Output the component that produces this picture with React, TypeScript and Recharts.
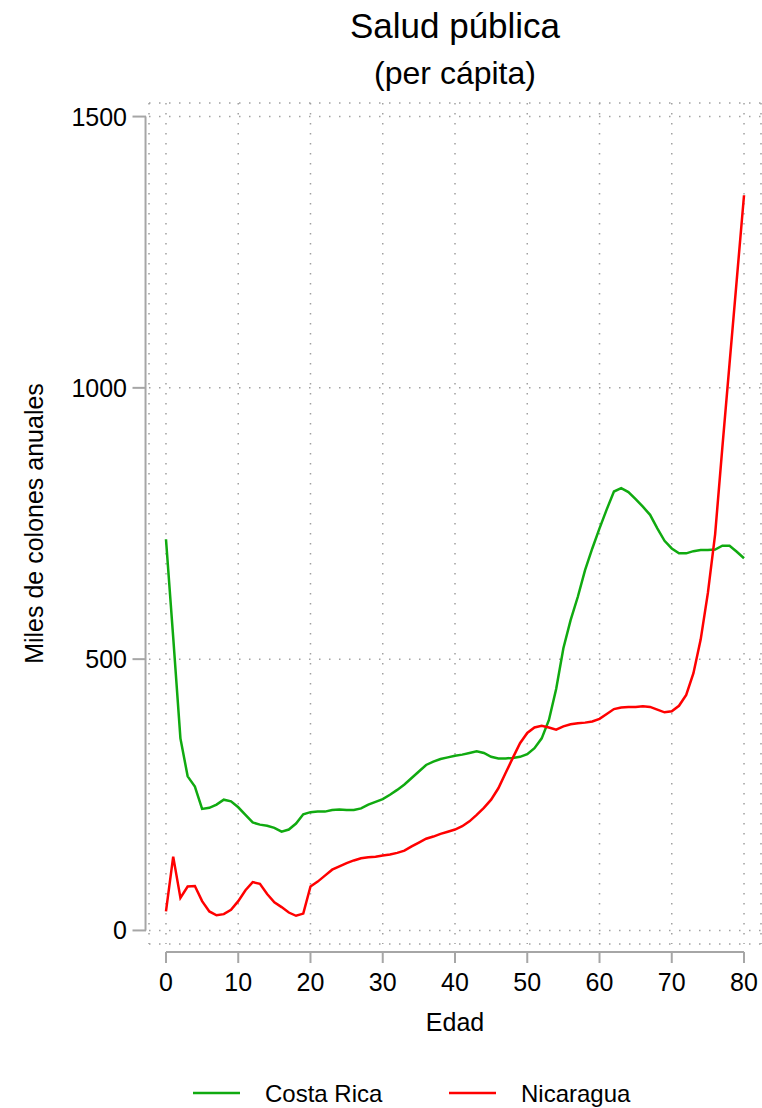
import React from 'react';
import { LineChart, Line, XAxis, YAxis, CartesianGrid, ReferenceLine } from 'recharts';

const ages = [
  0, 1, 2, 3, 4, 5, 6, 7, 8, 9, 10, 11, 12, 13, 14, 15, 16, 17, 18, 19, 20,
  21, 22, 23, 24, 25, 26, 27, 28, 29, 30, 31, 32, 33, 34, 35, 36, 37, 38, 39, 40,
  41, 42, 43, 44, 45, 46, 47, 48, 49, 50, 51, 52, 53, 54, 55, 56, 57, 58, 59, 60,
  61, 62, 63, 64, 65, 66, 67, 68, 69, 70, 71, 72, 73, 74, 75, 76, 77, 78, 79, 80,
];

const costaRica = [
  721, 540, 354, 284, 265, 224, 226, 232, 241, 238, 227,
  213, 199, 195, 193, 189, 182, 186, 197, 214, 218,
  219, 219, 222, 223, 222, 222, 225, 232, 237, 242,
  250, 259, 269, 281, 293, 305, 311, 316, 319, 322,
  324, 327, 330, 327, 320, 317, 317, 318, 320, 325,
  336, 354, 388, 445, 520, 572, 615, 664, 704, 741,
  776, 809, 815, 808, 795, 781, 766, 741, 718, 704,
  695, 695, 699, 701, 701, 702, 709, 709, 698, 686,
];

const nicaragua = [
  35, 136, 60, 81, 82, 54, 35, 28, 30, 38, 54,
  74, 89, 86, 67, 52, 43, 33, 27, 31, 81,
  90, 101, 112, 118, 124, 129, 133, 135, 136, 138,
  140, 143, 147, 155, 162, 169, 173, 178, 182, 186,
  192, 201, 213, 226, 241, 262, 290, 318, 345, 364,
  374, 377, 374, 370, 376, 380, 382, 383, 385, 390,
  399, 408, 411, 412, 412, 413, 412, 407, 402, 404,
  414, 434, 474, 536, 622, 730, 890, 1045, 1200, 1355,
];

const xTicks = [0, 10, 20, 30, 40, 50, 60, 70, 80];
const yTicks = [0, 500, 1000, 1500];
const seriesNames = ['Costa Rica', 'Nicaragua'];
const seriesColors = ['#10aa10', '#ff0000'];
const titleText = 'Salud pública';
const subtitleText = '(per cápita)';
const xTitle = 'Edad';
const yTitle = 'Miles de colones anuales';

const data = ages.map((a, i) => ({ edad: a, cr: costaRica[i], ni: nicaragua[i] }));

const FONT = '"Liberation Sans", Arial, Helvetica, sans-serif';
const AXIS_GRAY = '#a6a6a6';

const XTick = (props: any) => {
  const { x, y, payload } = props;
  return (
    <g>
      <line x1={x} x2={x} y1={y + 8} y2={y + 19} stroke={AXIS_GRAY} strokeWidth={2} />
      <text x={x} y={y + 47} textAnchor="middle" fontSize={25} fontFamily={FONT} fill="#000">
        {payload.value}
      </text>
    </g>
  );
};

const YTick = (props: any) => {
  const { x, y, payload } = props;
  return (
    <g>
      <line x1={x - 16.5} x2={x - 3} y1={y} y2={y} stroke={AXIS_GRAY} strokeWidth={2} />
      <text x={x - 22} y={y + 9} textAnchor="end" fontSize={25} fontFamily={FONT} fill="#000">
        {payload.value}
      </text>
    </g>
  );
};

export default function App() {
  return (
    <div style={{ position: 'absolute', left: 0, top: 0, width: 762, height: 1108, background: '#fff' }}>
      <LineChart
        width={762}
        height={1108}
        data={data}
        margin={{ top: 103, right: 1, bottom: 0, left: 0 }}
      >
        <CartesianGrid stroke="#a0a0a0" strokeWidth={1.5} strokeDasharray="1.5 8.5" />
        <XAxis
          type="number"
          dataKey="edad"
          domain={[-2.35, 82.35]}
          allowDataOverflow
          ticks={xTicks}
          interval={0}
          axisLine={false}
          tickLine={false}
          tickSize={0}
          tickMargin={0}
          height={164}
          tick={<XTick />}
          label={{
            content: (p: any) => {
              const vb = p.viewBox || { x: 149, y: 944, width: 612 };
              return (
                <text x={vb.x + vb.width / 2} y={vb.y + 87} textAnchor="middle" fontSize={25} fontFamily={FONT} fill="#000">
                  {xTitle}
                </text>
              );
            },
          }}
        />
        <YAxis
          type="number"
          domain={[-25, 1525]}
          allowDataOverflow
          ticks={yTicks}
          interval={0}
          axisLine={false}
          tickLine={false}
          tickSize={0}
          tickMargin={0}
          width={149}
          tick={<YTick />}
          label={{
            content: (p: any) => {
              const vb = p.viewBox || { x: 0, y: 103, height: 841 };
              const cy = vb.y + vb.height / 2;
              return (
                <text x={43} y={cy} transform={`rotate(-90, 43, ${cy})`} textAnchor="middle" fontSize={25} fontFamily={FONT} fill="#000">
                  {yTitle}
                </text>
              );
            },
          }}
        />
        <ReferenceLine
          segment={[{ x: 0, y: -39.7 }, { x: 80, y: -39.7 }]}
          stroke={AXIS_GRAY}
          strokeWidth={2}
          ifOverflow="visible"
        />
        <ReferenceLine
          segment={[{ x: -2.83, y: 0 }, { x: -2.83, y: 1500 }]}
          stroke={AXIS_GRAY}
          strokeWidth={2}
          ifOverflow="visible"
        />
        <Line
          type="linear"
          dataKey="cr"
          name={seriesNames[0]}
          stroke={seriesColors[0]}
          strokeWidth={2.5}
          dot={false}
          isAnimationActive={false}
        />
        <Line
          type="linear"
          dataKey="ni"
          name={seriesNames[1]}
          stroke={seriesColors[1]}
          strokeWidth={2.5}
          dot={false}
          isAnimationActive={false}
        />
      </LineChart>
      <svg
        width={762}
        height={1108}
        style={{ position: 'absolute', left: 0, top: 0, pointerEvents: 'none' }}
      >
        <text x={455} y={38} textAnchor="middle" fontSize={35} fontFamily={FONT} fill="#000">
          {titleText}
        </text>
        <text x={455} y={84} textAnchor="middle" fontSize={32} fontFamily={FONT} fill="#000">
          {subtitleText}
        </text>
        <line x1={193} x2={240} y1={1093} y2={1093} stroke={seriesColors[0]} strokeWidth={2.5} />
        <text x={265} y={1102} fontSize={24} fontFamily={FONT} fill="#000">
          {seriesNames[0]}
        </text>
        <line x1={449} x2={496} y1={1093} y2={1093} stroke={seriesColors[1]} strokeWidth={2.5} />
        <text x={521} y={1102} fontSize={24} fontFamily={FONT} fill="#000">
          {seriesNames[1]}
        </text>
      </svg>
    </div>
  );
}
